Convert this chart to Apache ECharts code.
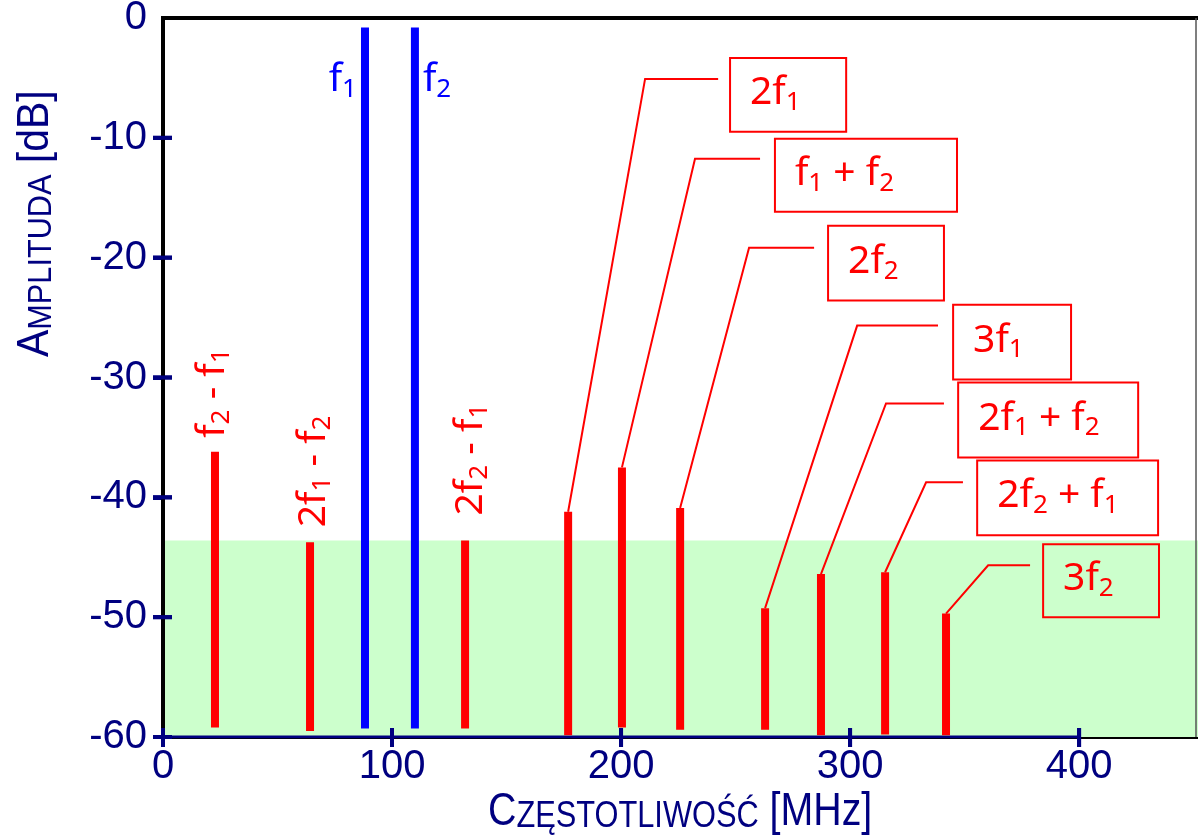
<!DOCTYPE html>
<html>
<head>
<meta charset="utf-8">
<script src="https://cdn.jsdelivr.net/npm/echarts@6/dist/echarts.min.js"></script>
<style>
  html, body { margin: 0; padding: 0; background: #fff; }
  #chart { width: 1198px; height: 835px; }
</style>
</head>
<body>
<div id="chart"></div>
<script>
// tony podstawowe f1, f2 [MHz] / [dB]
const toneFreq = [88.2, 110.0]
const toneTop = [-0.8, -0.8]
const toneBottom = [-59.3, -59.3]
const toneLabels = ['{m|f}{s|1}', '{m|f}{s|2}']

// produkty intermodulacyjne i harmoniczne
const imdFreq = [22.7, 64.2, 131.9, 176.9, 200.4, 225.8, 262.9, 287.3, 315.3, 341.9]
const imdTop = [-36.2, -43.75, -43.6, -41.2, -37.5, -40.9, -49.25, -46.4, -46.25, -49.7]
const imdBottom = [-59.2, -59.5, -59.3, -59.85, -59.2, -59.4, -59.4, -59.85, -59.8, -59.85]
const imdLabels = [
  '{m|f}{s|2}{m| - f}{s|1}',
  '{m|2f}{s|1}{m| - f}{s|2}',
  '{m|2f}{s|2}{m| - f}{s|1}',
  '{m|2f}{s|1}',
  '{m|f}{s|1}{m| + f}{s|2}',
  '{m|2f}{s|2}',
  '{m|3f}{s|1}',
  '{m|2f}{s|1}{m| + f}{s|2}',
  '{m|2f}{s|2}{m| + f}{s|1}',
  '{m|3f}{s|2}'
]

// poziom szumu (zielone pole)
const noiseFloor = -43.6
const xTicks = [0, 100, 200, 300, 400]
const yTickMarks = [-10, -20, -30, -40, -50, -60]

// rozmieszczenie opisów (w jednostkach osi) - tylko layout
const labelPlacement = [
  { dx: -1, gap: 14 },
  { dx: 5, gap: 15 },
  { dx: 7, gap: 25 },
  { elbow: [210.5, -5.08], end: 242.4, box: [247.6, -3.33, 298.3, -9.5] },
  { elbow: [232.3, -11.75], end: 260.7, box: [267.2, -10.08, 346.7, -16.17] },
  { elbow: [255.9, -19.17], end: 284.3, box: [290.4, -17.33, 341.0, -23.58] },
  { elbow: [303.1, -25.67], end: 338.4, box: [345.0, -23.92, 396.5, -30.17] },
  { elbow: [315.7, -32.17], end: 341.0, box: [347.2, -30.42, 425.8, -36.67] },
  { elbow: [333.2, -38.75], end: 349.3, box: [355.5, -36.92, 434.5, -43.17] },
  { elbow: [360.3, -45.67], end: 378.6, box: [384.3, -43.92, 434.9, -50.0] }
]
const toneLabelPlacement = [{ side: 'left', db: -5.3 }, { side: 'right', db: -5.3 }]

const RED = '#ff0000'
const BLUE = '#0000ff'
const NAVY = '#000080'
const BAR_W = 8
const LABEL_FONT = 'Noto Sans'
const AXIS_FONT = 'Liberation Sans'

function richFor(color) {
  return {
    m: { fontSize: 39, fontFamily: LABEL_FONT, fill: color, verticalAlign: 'bottom', padding: [0, 0, 3, 0] },
    s: { fontSize: 26, fontFamily: LABEL_FONT, fill: color, verticalAlign: 'bottom' }
  }
}

function renderImd(params, api) {
  const i = params.dataIndex
  const x = api.value(0)
  const top = api.coord([x, api.value(1)])
  const bot = api.coord([x, api.value(2)])
  const kids = [{
    type: 'rect',
    shape: { x: top[0] - BAR_W / 2, y: top[1], width: BAR_W, height: bot[1] - top[1] },
    style: { fill: RED }
  }]
  const p = labelPlacement[i]
  if (p.box) {
    const elbow = api.coord(p.elbow)
    const end = api.coord([p.end, p.elbow[1]])
    const b0 = api.coord([p.box[0], p.box[1]])
    const b1 = api.coord([p.box[2], p.box[3]])
    kids.push({
      type: 'polyline',
      shape: { points: [[top[0], top[1]], elbow, end] },
      style: { stroke: RED, lineWidth: 2, fill: null }
    })
    kids.push({
      type: 'rect',
      shape: { x: b0[0], y: b0[1], width: b1[0] - b0[0], height: b1[1] - b0[1] },
      style: { fill: null, stroke: RED, lineWidth: 2 }
    })
    kids.push({
      type: 'text',
      x: b0[0] + 20,
      y: (b0[1] + b1[1]) / 2,
      style: { text: imdLabels[i], rich: richFor(RED), fill: RED, align: 'left', verticalAlign: 'middle' }
    })
  } else {
    kids.push({
      type: 'text',
      x: top[0] + p.dx,
      y: top[1] - p.gap,
      rotation: Math.PI / 2,
      style: { text: imdLabels[i], rich: richFor(RED), fill: RED, align: 'left', verticalAlign: 'middle' }
    })
  }
  return { type: 'group', children: kids }
}

function renderTone(params, api) {
  const i = params.dataIndex
  const x = api.value(0)
  const top = api.coord([x, api.value(1)])
  const bot = api.coord([x, api.value(2)])
  const p = toneLabelPlacement[i]
  const ly = api.coord([x, p.db])[1]
  return {
    type: 'group',
    children: [{
      type: 'rect',
      shape: { x: top[0] - BAR_W / 2, y: top[1], width: BAR_W, height: bot[1] - top[1] },
      style: { fill: BLUE }
    }, {
      type: 'text',
      x: p.side === 'left' ? top[0] - 8 : top[0] + 8,
      y: ly,
      style: { text: toneLabels[i], rich: richFor(BLUE), fill: BLUE, align: p.side === 'left' ? 'right' : 'left', verticalAlign: 'middle' }
    }]
  }
}

// kreski podziałki przecinające ramkę (10 px na zewnątrz, 9 px do środka)
function renderTick(params, api) {
  const p = api.coord([api.value(0), api.value(1)])
  const vertical = api.value(2) === 1
  return {
    type: 'line',
    shape: vertical
      ? { x1: p[0], y1: p[1] + 10, x2: p[0], y2: p[1] - 9 }
      : { x1: p[0] - 10, y1: p[1], x2: p[0] + 9, y2: p[1] },
    style: { stroke: NAVY, lineWidth: 4 }
  }
}

const imdData = imdFreq.map((f, i) => [f, imdTop[i], imdBottom[i]])
const toneData = toneFreq.map((f, i) => [f, toneTop[i], toneBottom[i]])
const tickData = xTicks.map(v => [v, -60, 1]).concat(yTickMarks.map(v => [0.01, v, 0]))

// siatka sięga za prawą krawędź obrazu, ramka z prawej jest cienka i szara
const X_MAX = 452.8
const X_EDGE = 451

const titleGraphics = [
  {
    type: 'text', x: 36, y: 357, rotation: Math.PI / 2, scaleX: 0.93,
    style: {
      text: '{b|A}{s|MPLITUDA}{b| [dB]}',
      align: 'left', verticalAlign: 'middle', fill: NAVY,
      rich: {
        b: { fontSize: 44, fontFamily: AXIS_FONT, fill: NAVY, verticalAlign: 'bottom' },
        s: { fontSize: 33, fontFamily: AXIS_FONT, fill: NAVY, verticalAlign: 'bottom' }
      }
    }
  },
  {
    type: 'text', x: 488, y: 812, scaleX: 0.855,
    style: {
      text: '{b|C}{s|ZĘSTOTLIWOŚĆ}{b| [MHz]}',
      align: 'left', verticalAlign: 'middle', fill: NAVY,
      rich: {
        b: { fontSize: 46, fontFamily: AXIS_FONT, fill: NAVY, verticalAlign: 'bottom' },
        s: { fontSize: 36, fontFamily: AXIS_FONT, fill: NAVY, verticalAlign: 'bottom' }
      }
    }
  }
]

let option = {
  animation: false,
  backgroundColor: '#fff',
  grid: {
    left: 163, top: 18, width: 1037, height: 719, outerBoundsMode: 'none',
    show: true, borderColor: '#000', borderWidth: 4
  },
  xAxis: {
    type: 'value', min: 0, max: X_MAX, interval: 100,
    axisLine: { show: false, onZero: false },
    axisTick: { show: false },
    axisLabel: { customValues: xTicks, color: NAVY, fontSize: 40, fontFamily: AXIS_FONT, margin: 10 },
    splitLine: { show: false }
  },
  yAxis: {
    type: 'value', min: -60, max: 0, interval: 10, z: 5,
    axisLine: { show: true, onZero: false, lineStyle: { color: '#000', width: 4 } },
    axisTick: { show: true, length: 10, customValues: yTickMarks, lineStyle: { color: NAVY, width: 4 } },
    axisLabel: { color: NAVY, fontSize: 40, fontFamily: AXIS_FONT, margin: 16 },
    splitLine: { show: false }
  },
  graphic: titleGraphics,
  series: [
    {
      // granatowa linia osi 0-400 MHz + pole szumu + cienka prawa krawędź
      type: 'line',
      z: 1,
      data: [[0, -60], [400, -60]],
      symbol: 'none',
      lineStyle: { color: NAVY, width: 3 },
      silent: true,
      markArea: {
        silent: true,
        itemStyle: { color: '#ccffcc' },
        data: [[{ xAxis: 0, yAxis: -60 }, { xAxis: X_MAX, yAxis: noiseFloor }]]
      },
      markLine: {
        silent: true,
        symbol: 'none',
        label: { show: false },
        lineStyle: { color: '#555', width: 1.5, type: 'solid' },
        data: [{ xAxis: X_EDGE }]
      }
    },
    {
      type: 'custom',
      z: 3,
      renderItem: renderImd,
      data: imdData,
      encode: { x: 0, y: [1, 2] }
    },
    {
      type: 'custom',
      z: 3,
      renderItem: renderTone,
      data: toneData,
      encode: { x: 0, y: [1, 2] }
    },
    {
      type: 'custom',
      zlevel: 1,
      z: 7,
      clip: false,
      renderItem: renderTick,
      data: tickData,
      encode: { x: 0, y: 1 },
      silent: true
    }
  ]
}

const myChart = echarts.init(document.getElementById('chart'))
myChart.setOption(option)

// zapas: lewa ramka i kreski jako grafika na wierzchu, liczone przez skale osi
try {
  const toPx = v => myChart.convertToPixel({ gridIndex: 0 }, v)
  const a = toPx([0, 0])
  const b = toPx([0, -60])
  const extra = [{
    type: 'line', zlevel: 10,
    shape: { x1: a[0], y1: a[1] - 2, x2: b[0], y2: b[1] + 2 },
    style: { stroke: '#000', lineWidth: 4 }
  }]
  yTickMarks.forEach(v => {
    const p = toPx([0, v])
    extra.push({ type: 'line', zlevel: 10, shape: { x1: p[0] - 10, y1: p[1], x2: p[0] + 9, y2: p[1] }, style: { stroke: NAVY, lineWidth: 4 } })
  })
  xTicks.forEach(v => {
    const p = toPx([v, -60])
    extra.push({ type: 'line', zlevel: 10, shape: { x1: p[0], y1: p[1] + 10, x2: p[0], y2: p[1] - 9 }, style: { stroke: NAVY, lineWidth: 4 } })
  })
  myChart.setOption({ graphic: titleGraphics.concat(extra) })
} catch (e) {
  console.error(e)
}

window.addEventListener('resize', () => myChart.resize())
</script>
</body>
</html>
